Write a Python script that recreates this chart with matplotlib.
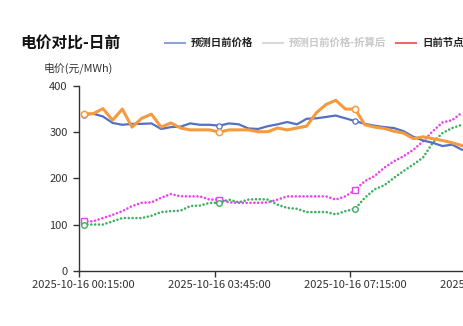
import numpy as np
import matplotlib
matplotlib.use("Agg")
import matplotlib.pyplot as plt
from matplotlib.lines import Line2D

plt.rcParams['font.family'] = ['Noto Sans CJK SC', 'DejaVu Sans']

##### DATA #####
x_labels = ['2025-10-16 00:15:00', '2025-10-16 03:45:00',
            '2025-10-16 07:15:00', '2025-10-16 10:45:00']
label_idx = [0, 14, 28, 42]

forecast = [337, 340, 334, 320, 316, 318, 318, 319, 307, 311,
            312, 319, 316, 316, 314, 319, 317, 308, 307, 313,
            317, 322, 317, 329, 330, 333, 336, 330, 324, 318,
            314, 311, 309, 302, 290, 282, 277, 270, 273, 262]
node_price = [340, 340, 351, 326, 350, 311, 330, 339, 311, 320,
              309, 305, 305, 305, 300, 305, 305, 305, 301, 301,
              309, 305, 309, 313, 342, 360, 369, 350, 350, 316,
              311, 308, 302, 298, 286, 290, 286, 282, 277, 271]
pink_series = [107, 107, 114, 121, 129, 140, 147, 148, 158, 166,
               161, 161, 161, 154, 154, 148, 147, 147, 147, 148,
               154, 161, 161, 161, 161, 161, 154, 161, 175, 194,
               205, 223, 237, 248, 262, 280, 302, 321, 326, 342]
green_series = [100, 100, 100, 107, 114, 114, 114, 119, 127, 129,
                130, 140, 141, 147, 147, 154, 148, 154, 155, 154,
                143, 136, 134, 127, 127, 127, 122, 129, 134, 158,
                176, 185, 201, 216, 230, 245, 277, 298, 309, 316]

legend_names = ['预测日前价格', '预测日前价格-折算后', '日前节点']

W, H = 463, 326
fig = plt.figure(figsize=(W / 100, H / 100), dpi=100)
ax_left, ax_bottom = 78.7 / W, (H - 270.7) / H
ax = fig.add_axes([ax_left, ax_bottom, 1 - ax_left, (270.7 - 86) / H])

x = np.arange(len(forecast))
marks = [0, 14, 28]
dots = (0, (0.01, 1.45))
ax.plot(x, forecast, color='#5470c6', lw=1.6, marker='o', markevery=marks,
        ms=3.8, mfc='white', mew=0.9, zorder=4)
ax.plot(x, node_price, color='#f59a3d', lw=2.2, marker='o', markevery=marks,
        ms=4.5, mfc='white', mew=1.1, zorder=5)
ax.plot(x, pink_series, color='#f03ef0', lw=1.9, ls=dots,
        dash_capstyle='round', marker='s', markevery=marks,
        ms=4, mfc='white', mew=1, zorder=3)
ax.plot(x, green_series, color='#3cb060', lw=1.9, ls=dots,
        dash_capstyle='round', marker='o', markevery=marks,
        ms=4, mfc='white', mew=1, zorder=3)

right_lim = (W - 78.7) / 9.7 - 0.5
ax.set_xlim(-0.5, right_lim)
ax.set_ylim(0, 400)

for s in ['top', 'right']:
    ax.spines[s].set_visible(False)
for s in ['left', 'bottom']:
    ax.spines[s].set_color('#333333')
    ax.spines[s].set_linewidth(1)

ax.set_yticks([0, 100, 200, 300, 400])
ax.tick_params(axis='y', length=4, width=1, color='#333333', pad=4,
               labelsize=8, labelcolor='#333333')

# band boundaries get the tick marks, labels sit on the categories
ax.set_xticks([i - 0.5 for i in label_idx[:3]])
ax.set_xticklabels([])
ax.tick_params(axis='x', which='major', length=4, width=1, color='#333333')
ax.set_xticks(label_idx[:3], minor=True)
ax.set_xticklabels(x_labels[:3], minor=True)
ax.tick_params(axis='x', which='minor', length=0, pad=7,
               labelsize=8, labelcolor='#333333')
# last label runs off the cropped edge
ax.annotate(x_labels[3], xy=(label_idx[3], 0), xycoords='data',
            xytext=(0, -7), textcoords='offset points', ha='center', va='top',
            fontsize=8, color='#333333', annotation_clip=False)

fig.text(20 / W, 1 - 44 / H, '电价对比-日前', fontsize=11.3, fontweight='bold',
         color='#111111', va='center', ha='left')
fig.text(78 / W, 1 - 68 / H, '电价(元/MWh)', fontsize=7.8, color='#333333',
         va='center', ha='center')

# legend drawn by hand, it is cut at the right edge
leg_y = 1 - 43 / H
icons = [(165, '#8aa4d6', '#222222'), (263, '#d9d9d9', '#c8c8c8'),
         (396, '#ee6666', '#222222')]
for (x0, lc, tc), name in zip(icons, legend_names):
    fig.add_artist(Line2D([x0 / W, (x0 + 20) / W], [leg_y, leg_y],
                          color=lc, lw=1.5, transform=fig.transFigure))
    fig.text((x0 + 26) / W, leg_y, name, fontsize=7.5, fontweight='bold',
             color=tc, va='center', ha='left')

fig.savefig('out.png', dpi=100)
